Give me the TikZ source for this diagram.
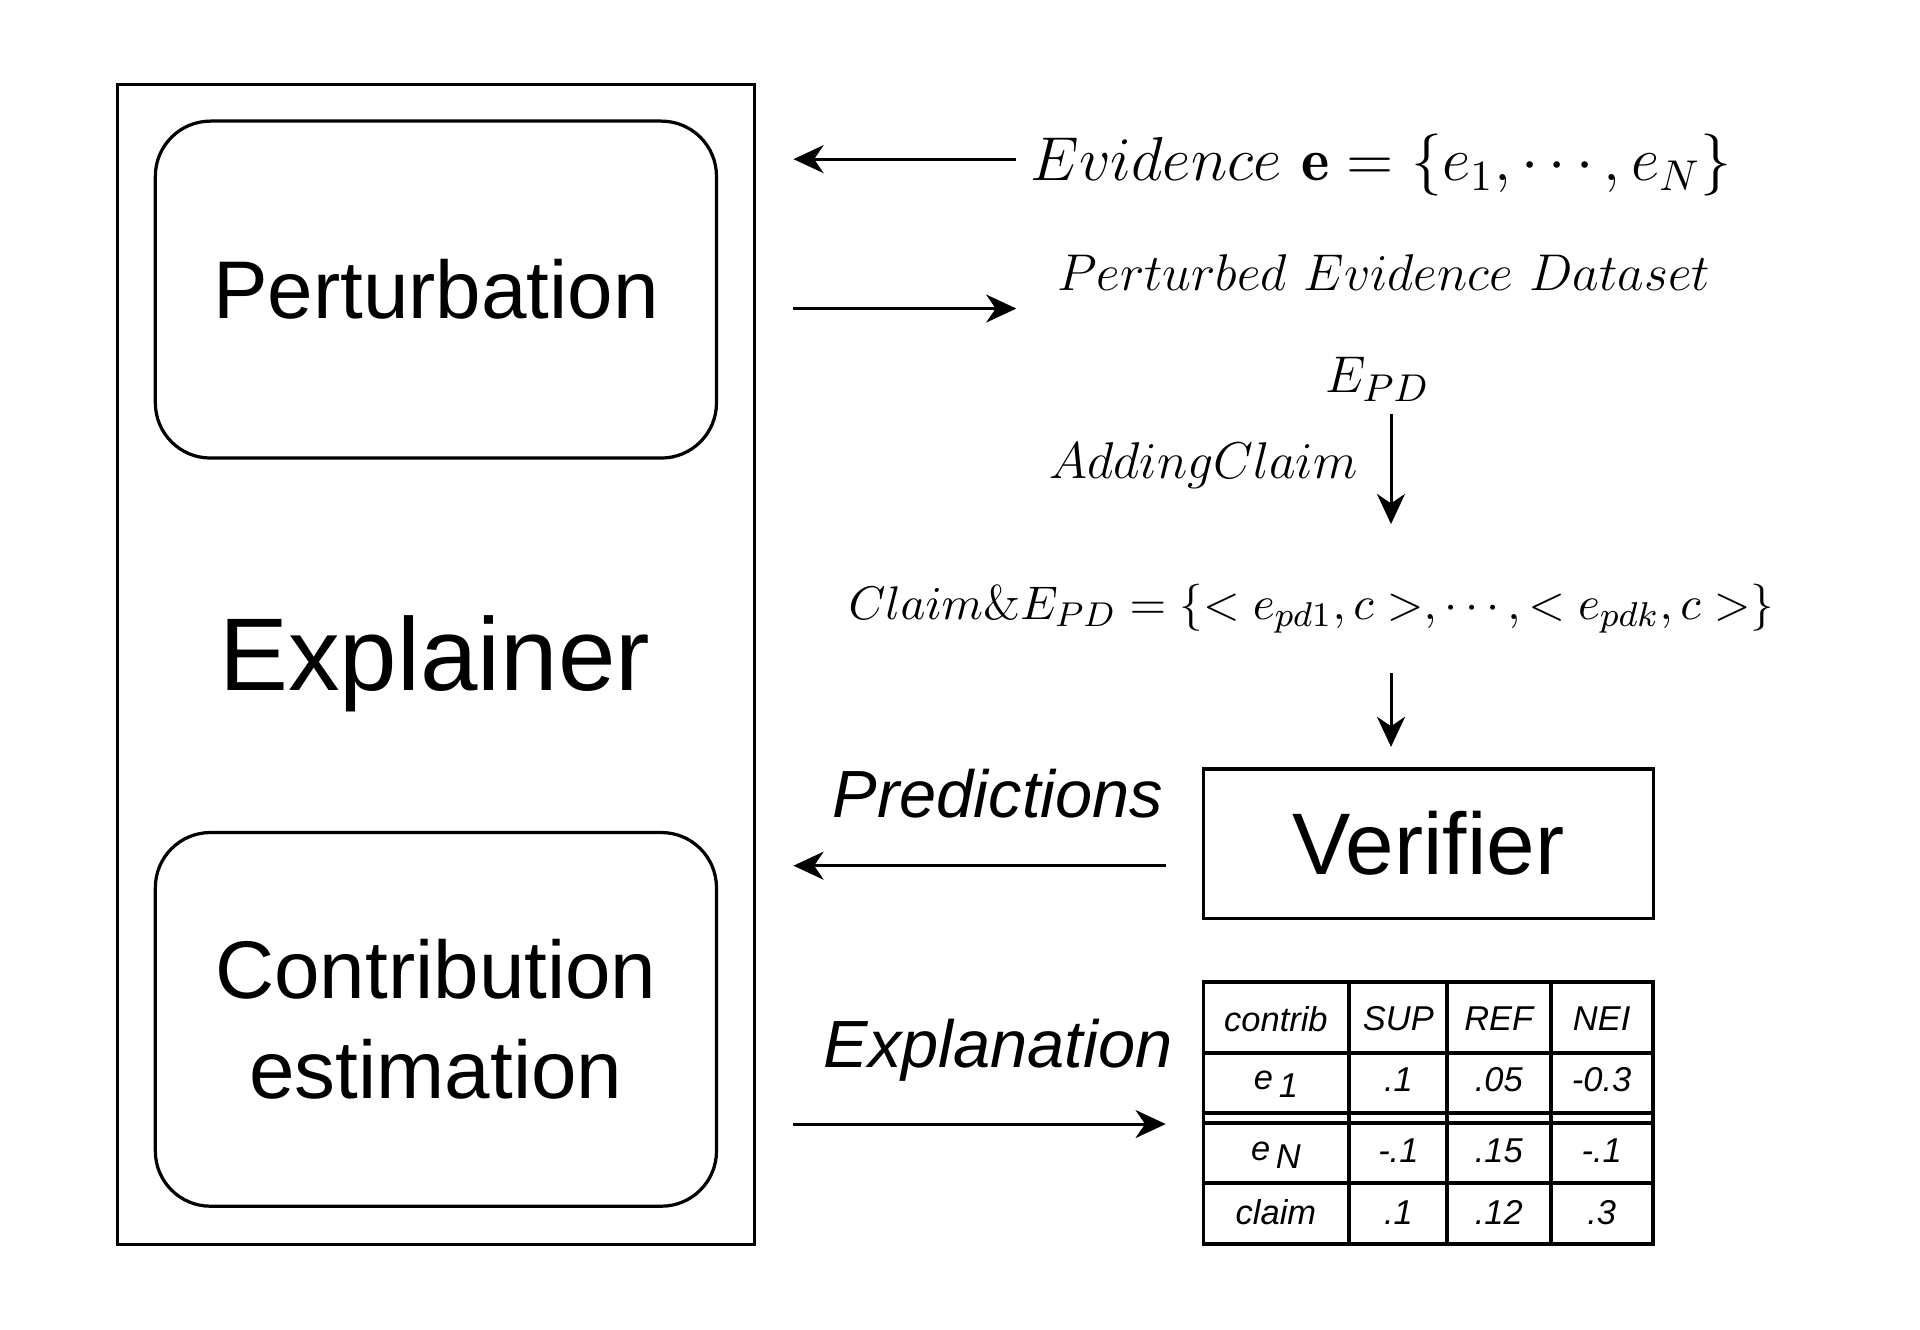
\documentclass[tikz,border=0pt]{standalone}
\usepackage{fontspec}
\newfontfamily\arial{Liberation Sans}
\usetikzlibrary{arrows.meta,positioning}
\newcommand{\lowsub}[1]{\,\smash{\raisebox{-0.45ex}{#1}}}

\begin{document}
\begin{tikzpicture}[x=0.01cm,y=-0.01cm,line width=0.7pt,
                    arr/.style={-{Stealth[length=7pt,width=6.5pt,inset=2.2pt]}}]
  \tikzstyle{box}=[draw=black,line width=0.75pt,inner sep=0pt]
  \tikzstyle{big}=[font=\arial\fontsize{19}{23.3}\selectfont,align=center]
  \tikzstyle{lbl}=[font=\arial\itshape\fontsize{15.5}{18}\selectfont]
  \tikzstyle{mth}=[font=\fontsize{12}{14}\selectfont,inner sep=0pt]
  \tikzstyle{tab}=[line width=0.9pt]
  \tikzstyle{cell}=[font=\arial\itshape\fontsize{8}{9.6}\selectfont,inner sep=0pt]
  \useasboundingbox (0,0) rectangle (1568,1086);

  % explainer side
  \node[box,minimum width=5.2cm,minimum height=9.47cm] (explainer) at (356,542.5) {};
  \node[font=\arial\fontsize{24}{28}\selectfont] (xlabel) at (355,542) {Explainer};
  \node[box,big,rounded corners=0.45cm,minimum width=4.58cm,minimum height=2.75cm] (perturb) at (356,236.5) {Perturbation};
  \node[box,big,rounded corners=0.45cm,minimum width=4.58cm,minimum height=3.05cm] (contrib) at (356,832.5) {Contribution\\estimation};

  % data side
  \node[mth,font=\fontsize{14}{17}\selectfont] (evid) at (1128,135) {$Evidence\ \mathbf{e}=\{e_1,\cdots,e_N\}$};
  \node[mth] (pds) at (1130,223) {$Perturbed\ Evidence\ Dataset$};
  \node[mth,font=\fontsize{13}{15}\selectfont] (epd) at (1125,310) {$E_{PD}$};
  \node[mth,anchor=east] (add) at (1110,380) {$AddingClaim$};
  \node[mth,font=\fontsize{11.3}{13}\selectfont] (ced) at (1071,497) {$Claim\&E_{PD}=\{<e_{pd1},c>,\cdots,<e_{pdk},c>\}$};
  \node[box,minimum width=3.67cm,minimum height=1.22cm,font=\arial\fontsize{20.3}{24}\selectfont] (verif) at (1166.5,689) {Verifier};
  \node[lbl] (pred) at (815,648) {Predictions};
  \node[lbl] (expl) at (815,858) {Explanation};

  % arrow ends
  \coordinate (evout) at (830,130);
  \coordinate (evin)  at (648,130);
  \coordinate (pdin)  at (648,252);
  \coordinate (pdout) at (830,252);
  \coordinate (adtop) at (1136,338);
  \coordinate (adbot) at (1136,428);
  \coordinate (vtop)  at (1136,550);
  \coordinate (vbot)  at (1136,610);
  \coordinate (prout) at (952,707);
  \coordinate (prin)  at (648,707);
  \coordinate (exin)  at (648,918);
  \coordinate (exout) at (952,918);

  \draw[arr] (evout) -- (evin);
  \draw[arr] (pdin) -- (pdout);
  \draw[arr] (adtop) -- (adbot);
  \draw[arr] (vtop) -- (vbot);
  \draw[arr] (prout) -- (prin);
  \draw[arr] (exin) -- (exout);

  % contribution table
  \node[draw=black,tab,inner sep=0pt,minimum width=3.67cm,minimum height=2.14cm] (table) at (1166.5,909) {};
  \foreach \x in {1102,1182,1267}
    \draw[tab] (\x,802) -- (\x,1016);
  \foreach \y in {860,909,917,966}
    \draw[tab] (983,\y) -- (1350,\y);

  \foreach \x/\t [count=\i] in {1042/contrib,1142/SUP,1224/REF,1308/NEI}
    \node[cell] (h\i) at (\x,832) {\t};
  \foreach \x/\t [count=\i] in {1042/e\lowsub{1},1142/.1,1224/.05,1308/-0.3}
    \node[cell] (a\i) at (\x,882) {\t};
  \foreach \x/\t [count=\i] in {1042/e\lowsub{N},1142/-.1,1224/.15,1308/-.1}
    \node[cell] (b\i) at (\x,940) {\t};
  \foreach \x/\t [count=\i] in {1042/claim,1142/.1,1224/.12,1308/.3}
    \node[cell] (c\i) at (\x,990) {\t};
\end{tikzpicture}
\end{document}
